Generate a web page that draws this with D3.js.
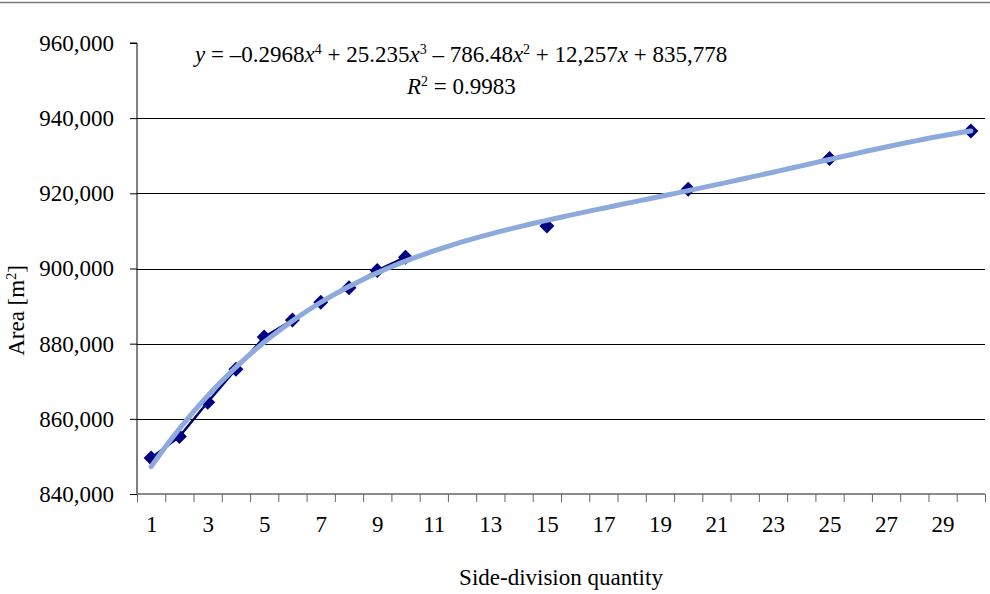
<!DOCTYPE html>
<meta charset="UTF-8">
<script src="https://d3js.org/d3.v7.min.js"></script>
<style>
body { margin: 0; background: #fff; }
text { font-family: "Liberation Serif", "DejaVu Serif", serif; fill: #000; }
</style>
<body>
<div id="mysvg"></div>
<script>

// values
var sideDivisions = [1, 2, 3, 4, 5, 6, 7, 8, 9, 10, 15, 20, 25, 30];
var areas = [849600, 855300, 864400, 873200, 881800, 886300, 891000, 894900, 899500, 903000, 911300, 921100, 929300, 936600];
// trendline coefficients, highest power first (as printed on the chart)
var trendCoefs = [-0.2968, 25.235, -786.48, 12257, 835778];
var yTicks = [840000, 860000, 880000, 900000, 920000, 940000, 960000];
var xLabels = [1, 3, 5, 7, 9, 11, 13, 15, 17, 19, 21, 23, 25, 27, 29];
var nCategories = 30;

var width = 990, height = 594;
var plotLeft = 137, plotRight = 985, plotTop = 43, plotBottom = 494;
var fs = "23px";

var svg = d3.select("#mysvg")
  .append("svg")
    .attr("width", width)
    .attr("height", height);

var x = d3.scaleLinear()
  .domain([0.5, nCategories + 0.5])
  .range([plotLeft, plotRight]);

var y = d3.scaleLinear()
  .domain([840000, 960000])
  .range([plotBottom, plotTop]);

// thin rule at the very top
svg.append("line")
  .attr("x1", 0).attr("x2", width)
  .attr("y1", 2.5).attr("y2", 2.5)
  .attr("stroke", "#777").attr("stroke-width", 1.5);

// gridlines
svg.append("g")
  .selectAll("line")
  .data(yTicks.filter(function(d) { return d > 840000 && d < 960000; }))
  .enter()
  .append("line")
    .attr("x1", plotLeft).attr("x2", plotRight)
    .attr("y1", function(d) { return Math.round(y(d)) + 0.5; })
    .attr("y2", function(d) { return Math.round(y(d)) + 0.5; })
    .attr("stroke", "#000").attr("stroke-width", 1);

// y axis
var yAxis = svg.append("g")
  .attr("transform", "translate(" + plotLeft + ",0)")
  .call(d3.axisLeft(y).tickValues(yTicks).tickSize(7).tickPadding(16).tickFormat(d3.format(",")));
yAxis.selectAll("text").style("font-size", fs).attr("font-family", null);
yAxis.selectAll("line").attr("stroke", "#000");
yAxis.select(".domain").attr("stroke", "#000").attr("d", "M-7," + plotTop + "H0V" + plotBottom);

// x axis: ticks on category boundaries
var boundaries = d3.range(0.5, nCategories + 1, 1);
var xAxis = svg.append("g")
  .attr("transform", "translate(0," + plotBottom + ")")
  .call(d3.axisBottom(x).tickValues(boundaries).tickSize(8).tickFormat(""));
xAxis.selectAll("line").attr("stroke", "#666");
xAxis.select(".domain").attr("stroke", "#666").attr("stroke-width", 1.5).attr("d", "M" + plotLeft + ",0H" + plotRight);

var xLab = svg.append("g")
  .attr("transform", "translate(0," + plotBottom + ")")
  .call(d3.axisBottom(x).tickValues(xLabels).tickSize(0).tickPadding(22));
xLab.select(".domain").remove();
xLab.selectAll("text").style("font-size", fs).attr("font-family", null);

// axis titles
svg.append("text")
  .attr("transform", "translate(24," + ((plotTop + plotBottom) / 2 + 42) + ") rotate(-90)")
  .attr("text-anchor", "middle")
  .style("font-size", fs)
  .html("Area [m<tspan dy='-8' font-size='14px'>2</tspan><tspan dy='8'>]</tspan>");

svg.append("text")
  .attr("x", (plotLeft + plotRight) / 2)
  .attr("y", 585)
  .attr("text-anchor", "middle")
  .style("font-size", fs)
  .text("Side-division quantity");

// series line: blank categories leave gaps
var byCategory = d3.range(1, nCategories + 1).map(function(c) {
  var i = sideDivisions.indexOf(c);
  return { c: c, v: i < 0 ? null : areas[i] };
});
var line = d3.line()
  .defined(function(d) { return d.v !== null; })
  .x(function(d) { return x(d.c); })
  .y(function(d) { return y(d.v); });

svg.append("path")
  .datum(byCategory)
  .attr("d", line)
  .attr("fill", "none")
  .attr("stroke", "#000080")
  .attr("stroke-width", 2.5);

svg.append("g")
  .selectAll("path")
  .data(areas)
  .enter()
  .append("path")
    .attr("d", "M0,-7.5L7.5,0L0,7.5L-7.5,0Z")
    .attr("transform", function(d, i) { return "translate(" + x(sideDivisions[i]) + "," + y(d) + ")"; })
    .attr("fill", "#000080");

// polynomial trendline
function poly(t) {
  return trendCoefs.reduce(function(acc, c) { return acc * t + c; }, 0);
}
var trendX = d3.range(1, nCategories + 0.001, 0.25);
svg.append("path")
  .datum(trendX)
  .attr("d", d3.line()
    .x(function(t) { return x(t); })
    .y(function(t) { return y(poly(t)); }))
  .attr("fill", "none")
  .attr("stroke", "#8eaadc")
  .attr("stroke-width", 5)
  .attr("stroke-linecap", "round");

// equation
svg.append("text")
  .attr("x", 195).attr("y", 62)
  .style("font-size", fs)
  .html("<tspan font-style='italic'>y</tspan> = –0.2968<tspan font-style='italic'>x</tspan><tspan dy='-8' font-size='14px'>4</tspan><tspan dy='8'> + 25.235</tspan><tspan font-style='italic'>x</tspan><tspan dy='-8' font-size='14px'>3</tspan><tspan dy='8'> – 786.48</tspan><tspan font-style='italic'>x</tspan><tspan dy='-8' font-size='14px'>2</tspan><tspan dy='8'> + 12,257</tspan><tspan font-style='italic'>x</tspan> + 835,778");

svg.append("text")
  .attr("x", 407).attr("y", 94)
  .style("font-size", fs)
  .html("<tspan font-style='italic'>R</tspan><tspan dy='-8' font-size='14px'>2</tspan><tspan dy='8'> = 0.9983</tspan>");

</script>
</body>
